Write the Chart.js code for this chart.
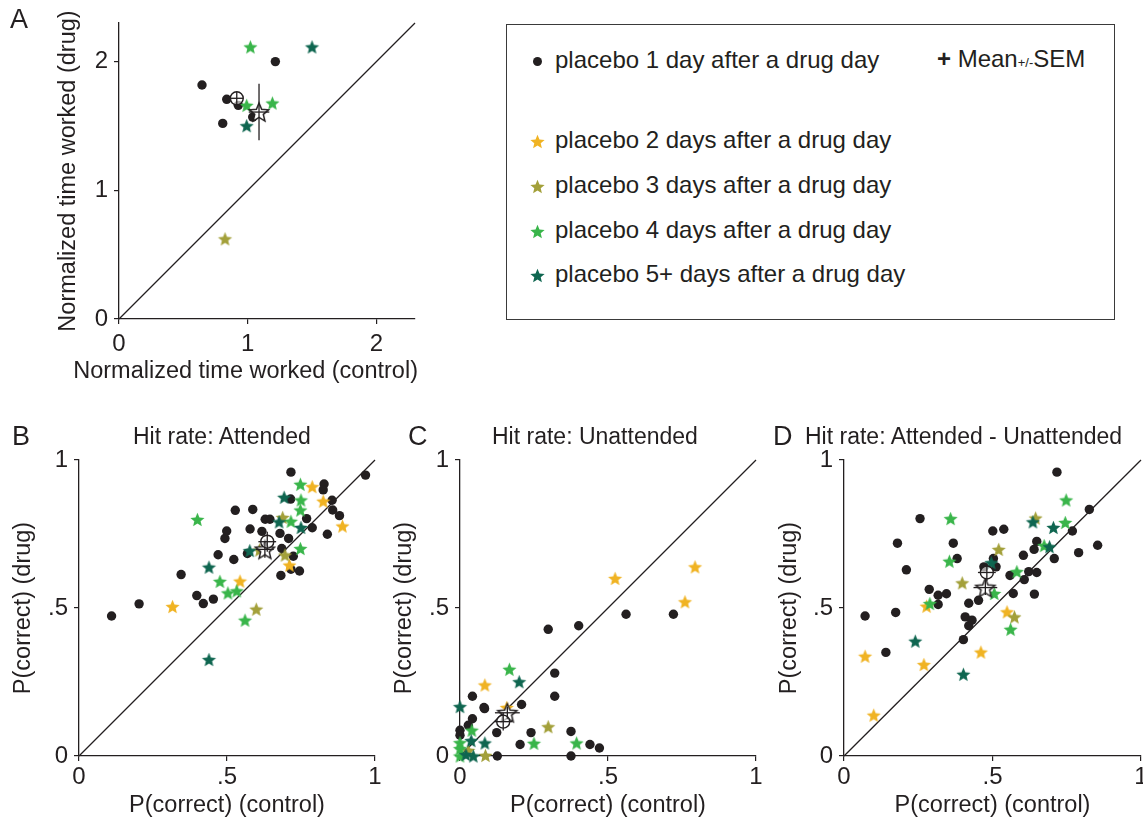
<!DOCTYPE html>
<html>
<head>
<meta charset="utf-8">
<title>Placebo days after a drug day</title>
<script src="https://cdn.jsdelivr.net/npm/chart.js@4.4.1/dist/chart.umd.min.js"></script>
<style>
  html, body { margin: 0; padding: 0; background: #fff; overflow: hidden; }
  body { position: relative; width: 1143px; height: 821px; font-family: "Liberation Sans", Arial, sans-serif; color: #231f20; }
  canvas.panel { position: absolute; }
  .txt { position: absolute; white-space: nowrap; line-height: 1; }
  .letter { font-size: 27px; }
  .ptitle { font-size: 23px; }
  .leg { font-size: 24px; }
  .axt { font-size: 23.5px; }
  #legendBox { position: absolute; left: 506px; top: 24px; width: 607px; height: 294px; border: 1.5px solid #3a3a3a; }
</style>
</head>
<body>
<canvas id="chartA" class="panel" width="440" height="395" style="left:0;top:0"></canvas>
<canvas id="chartB" class="panel" width="390" height="400" style="left:0;top:420px"></canvas>
<canvas id="chartC" class="panel" width="390" height="400" style="left:380px;top:420px"></canvas>
<canvas id="chartD" class="panel" width="383" height="400" style="left:760px;top:420px"></canvas>

<div class="txt letter" style="left:10px;top:6px">A</div>
<div class="txt letter" style="left:12px;top:423px">B</div>
<div class="txt letter" style="left:408px;top:423px">C</div>
<div class="txt letter" style="left:773px;top:423px">D</div>
<div class="txt ptitle" style="left:133px;top:425px">Hit rate: Attended</div>
<div class="txt ptitle" style="left:492px;top:425px">Hit rate: Unattended</div>
<div class="txt ptitle" style="left:805px;top:425px">Hit rate: Attended - Unattended</div>
<div class="txt axt" style="right:725px;top:359px">Normalized time worked (control)</div>

<div id="legendBox"></div>
<div id="legendItems"></div>

<script>
// ---- data: [control, drug] pairs ----
// panel A: normalized time worked
const A_day1 = [[0.645, 1.818], [0.837, 1.707], [0.806, 1.520], [0.927, 1.660], [1.039, 1.569], [1.215, 2.0]];
const A_day2 = [];
const A_day3 = [[0.824, 0.623]];
const A_day4 = [[1.021, 2.114], [0.992, 1.660], [1.192, 1.678]];
const A_day5 = [[1.500, 2.114], [0.992, 1.502]];
// mean: [x, y, semX, semY]
const A_meanDot = [0.915, 1.715, 0.05, 0.05];
const A_meanStar = [1.088, 1.608, 0.08, 0.22];

// panel B: hit rate attended
const B_day1 = [[0.110, 0.473], [0.203, 0.514], [0.345, 0.613], [0.398, 0.542], [0.420, 0.515], [0.454, 0.530],
  [0.470, 0.680], [0.493, 0.735], [0.499, 0.760], [0.523, 0.664], [0.528, 0.830], [0.569, 0.684], [0.578, 0.767],
  [0.587, 0.833], [0.618, 0.759], [0.629, 0.800], [0.645, 0.800], [0.679, 0.752], [0.685, 0.701], [0.708, 0.735],
  [0.716, 0.959], [0.715, 0.868], [0.682, 0.610], [0.716, 0.631], [0.724, 0.675], [0.745, 0.625], [0.769, 0.802],
  [0.788, 0.771], [0.828, 0.919], [0.825, 0.899], [0.855, 0.864], [0.857, 0.831], [0.880, 0.812], [0.839, 0.749],
  [0.968, 0.949]];
const B_day2 = [[0.316, 0.505], [0.544, 0.591], [0.711, 0.645], [0.788, 0.910], [0.825, 0.861], [0.890, 0.777]];
const B_day3 = [[0.599, 0.496], [0.688, 0.806], [0.696, 0.679], [0.610, 0.696]];
const B_day4 = [[0.400, 0.799], [0.476, 0.590], [0.503, 0.551], [0.533, 0.558], [0.561, 0.459], [0.716, 0.793],
  [0.748, 0.918], [0.750, 0.865], [0.748, 0.831], [0.748, 0.701]];
const B_day5 = [[0.439, 0.326], [0.439, 0.638], [0.577, 0.694], [0.676, 0.791], [0.693, 0.874], [0.750, 0.772]];
const B_meanDot = [0.636, 0.724, 0.03, 0.034];
const B_meanStar = [0.628, 0.698, 0.03, 0.028];

// panel C: hit rate unattended
const C_day1 = [[0, 0.087], [0, 0.070], [0.028, 0.104], [0.042, 0.202], [0.042, 0.126], [0.081, 0.164], [0.083, 0.160],
  [0.124, 0.079], [0.126, 0], [0.203, 0.039], [0.208, 0.174], [0.240, 0.079], [0.298, 0.428], [0.320, 0.280],
  [0.320, 0.202], [0.375, 0.083], [0.375, 0], [0.401, 0.440], [0.439, 0.039], [0.471, 0.027], [0.561, 0.479],
  [0.721, 0.479]];
const C_day2 = [[0.084, 0.240], [0.158, 0.164], [0.524, 0.600], [0.760, 0.521], [0.794, 0.639]];
const C_day3 = [[0.298, 0.099], [0.086, 0.002], [0.028, 0.019]];
const C_day4 = [[0.167, 0.293], [0.250, 0.043], [0.394, 0.044], [0, 0.045], [0, 0.025], [0, 0], [0.040, 0.087]];
const C_day5 = [[0, 0.167], [0.200, 0.251], [0.084, 0.044], [0.038, 0.052], [0.045, 0], [0.02, 0.005]];
const C_meanDot = [0.146, 0.116, 0.03, 0.03];
const C_meanStar = [0.160, 0.146, 0.042, 0.02];

// panel D: hit rate attended - unattended
const D_day1 = [[0.071, 0.473], [0.141, 0.350], [0.174, 0.485], [0.180, 0.719], [0.210, 0.629], [0.256, 0.802],
  [0.287, 0.563], [0.317, 0.543], [0.317, 0.512], [0.345, 0.548], [0.368, 0.719], [0.381, 0.667], [0.402, 0.393],
  [0.408, 0.470], [0.420, 0.516], [0.420, 0.440], [0.431, 0.459], [0.453, 0.526], [0.471, 0.639], [0.501, 0.760],
  [0.503, 0.667], [0.512, 0.639], [0.538, 0.766], [0.559, 0.610], [0.570, 0.549], [0.604, 0.678], [0.607, 0.596],
  [0.622, 0.623], [0.640, 0.698], [0.641, 0.547], [0.649, 0.725], [0.649, 0.620], [0.708, 0.667], [0.717, 0.959],
  [0.769, 0.760], [0.790, 0.687], [0.826, 0.833], [0.854, 0.712]];
const D_day2 = [[0.071, 0.337], [0.100, 0.138], [0.269, 0.309], [0.278, 0.506], [0.461, 0.351], [0.549, 0.487]];
const D_day3 = [[0.398, 0.585], [0.521, 0.698], [0.574, 0.470], [0.645, 0.804]];
const D_day4 = [[0.289, 0.515], [0.355, 0.658], [0.359, 0.802], [0.506, 0.549], [0.561, 0.428], [0.582, 0.623],
  [0.674, 0.711], [0.745, 0.789], [0.748, 0.865]];
const D_day5 = [[0.240, 0.388], [0.402, 0.276], [0.496, 0.653], [0.636, 0.791], [0.705, 0.772], [0.692, 0.707]];
const D_meanDot = [0.481, 0.620, 0.03, 0.03];
const D_meanStar = [0.476, 0.569, 0.04, 0.025];

const pTicks = [0, 0.5, 1];
const pTickLabels = ['0', '.5', '1'];
const aTicks = [0, 1, 2];
const aTickLabels = ['0', '1', '2'];

const groupLabels = ['placebo 1 day after a drug day', 'placebo 2 days after a drug day',
  'placebo 3 days after a drug day', 'placebo 4 days after a drug day', 'placebo 5+ days after a drug day'];

const ink = '#231f20';
const groupColors = [ink, '#f0b323', '#a3a03a', '#39b54a', '#0f6650'];
const fam = '"Liberation Sans", Arial, sans-serif';

// filled 5-point star drawn into a small canvas, used as pointStyle
function starImage(r, fill, stroke) {
  const c = document.createElement('canvas');
  c.width = c.height = Math.ceil(2 * r + 4);
  const g = c.getContext('2d');
  const cx = c.width / 2, cy = c.height / 2 + r * 0.095;
  g.beginPath();
  for (let i = 0; i < 10; i++) {
    const rr = i % 2 ? r * 0.45 : r;
    const a = -Math.PI / 2 + i * Math.PI / 5;
    g.lineTo(cx + rr * Math.cos(a), cy + rr * Math.sin(a));
  }
  g.closePath();
  g.fillStyle = fill;
  g.fill();
  if (stroke) {
    g.strokeStyle = stroke;
    g.lineWidth = 1.5;
    g.lineJoin = 'miter';
    g.stroke();
  }
  return c;
}

const starImgs = groupColors.map(c => starImage(7.4, c));
const meanStarImg = starImage(10, '#ffffff', ink);

const xy = arr => arr.map(p => ({ x: p[0], y: p[1] }));

function lineSet(points, order) {
  return { data: points, showLine: true, borderColor: ink, borderWidth: 1.3, pointRadius: 0, fill: false, order: order, clip: false };
}

function axisOpts(isX, max, ticks, labels, title, L) {
  return {
    type: 'linear',
    min: 0,
    max: max,
    afterBuildTicks: s => { s.ticks = ticks.map(v => ({ value: v })); },
    afterFit: s => {
      if (isX) { s.height = L.xHeight; s.paddingLeft = 0; s.paddingRight = 0; }
      else { s.width = L.yWidth; s.paddingTop = 0; s.paddingBottom = 0; }
    },
    ticks: {
      callback: (v, i) => labels[i],
      font: { family: fam, size: 24 },
      color: ink,
      padding: isX ? L.xTickPad : 6,
      maxRotation: 0,
      autoSkip: false
    },
    grid: { drawOnChartArea: false, drawTicks: true, tickLength: 5, color: ink, lineWidth: 1.2 },
    border: { display: true, color: ink, width: 1.3 },
    title: {
      display: !!title,
      text: title || '',
      font: { family: fam, size: 23.5 },
      color: ink,
      padding: isX ? { top: 0, bottom: L.xTitlePad } : { top: L.yTitlePad, bottom: 0 }
    }
  };
}

function buildPanel(canvasId, groups, meanDot, meanStar, max, ticks, labels, xTitle, yTitle, L) {
  const datasets = [];
  // SEM bars on top of the mean markers
  [meanDot, meanStar].forEach(m => {
    datasets.push(lineSet([{ x: m[0] - m[2], y: m[1] }, { x: m[0] + m[2], y: m[1] }], 0));
    datasets.push(lineSet([{ x: m[0], y: m[1] - m[3] }, { x: m[0], y: m[1] + m[3] }], 0));
  });
  datasets.push({ data: [{ x: meanDot[0], y: meanDot[1] }], pointStyle: 'circle', pointRadius: 6.5,
    backgroundColor: 'rgba(255,255,255,0.6)', borderColor: ink, borderWidth: 1.4, order: 1, clip: false });
  datasets.push({ data: [{ x: meanStar[0], y: meanStar[1] }], pointStyle: meanStarImg, order: 1, clip: false });
  groups.forEach((g, i) => {
    if (i === 0) {
      datasets.push({ data: xy(g), pointStyle: 'circle', pointRadius: 4.7, backgroundColor: ink,
        borderWidth: 0, order: 6, clip: false });
    } else {
      datasets.push({ data: xy(g), pointStyle: starImgs[i], order: 6 - i, clip: false });
    }
  });
  // unity line
  datasets.push(lineSet([{ x: 0, y: 0 }, { x: max, y: max }], 7));

  return new Chart(document.getElementById(canvasId), {
    type: 'scatter',
    data: { datasets: datasets },
    options: {
      responsive: false,
      animation: false,
      events: [],
      layout: { autoPadding: false, padding: L.pad },
      plugins: { legend: { display: false }, tooltip: { enabled: false }, title: { display: false } },
      scales: {
        x: axisOpts(true, max, ticks, labels, xTitle, L),
        y: axisOpts(false, max, ticks, labels, yTitle, L)
      }
    }
  });
}

buildPanel('chartA', [A_day1, A_day2, A_day3, A_day4, A_day5], A_meanDot, A_meanStar, 2.3, aTicks, aTickLabels,
  null, 'Normalized time worked (drug)',
  { pad: { left: 0, top: 23, right: 25, bottom: 0 }, yWidth: 119, xHeight: 76, yTitlePad: 54, xTitlePad: 10, xTickPad: 6 });
buildPanel('chartB', [B_day1, B_day2, B_day3, B_day4, B_day5], B_meanDot, B_meanStar, 1, pTicks, pTickLabels,
  'P(correct) (control)', 'P(correct) (drug)',
  { pad: { left: 0, top: 40, right: 15, bottom: 0 }, yWidth: 79, xHeight: 64, yTitlePad: 9, xTitlePad: 0, xTickPad: 2 });
buildPanel('chartC', [C_day1, C_day2, C_day3, C_day4, C_day5], C_meanDot, C_meanStar, 1, pTicks, pTickLabels,
  'P(correct) (control)', 'P(correct) (drug)',
  { pad: { left: 0, top: 40, right: 14, bottom: 0 }, yWidth: 80, xHeight: 64, yTitlePad: 10, xTitlePad: 0, xTickPad: 2 });
buildPanel('chartD', [D_day1, D_day2, D_day3, D_day4, D_day5], D_meanDot, D_meanStar, 1, pTicks, pTickLabels,
  'P(correct) (control)', 'P(correct) (drug)',
  { pad: { left: 0, top: 40, right: 2, bottom: 0 }, yWidth: 84, xHeight: 64, yTitlePad: 15, xTitlePad: 0, xTickPad: 2 });

// legend (HTML box)
const legendRows = [61, 141, 186, 231, 275];
const legendHost = document.getElementById('legendItems');
groupLabels.forEach((label, i) => {
  const y = legendRows[i];
  let icon;
  if (i === 0) {
    icon = document.createElement('div');
    icon.style.cssText = 'position:absolute;width:9px;height:9px;border-radius:50%;background:' + ink +
      ';left:' + (537 - 4.5) + 'px;top:' + (y - 4.5) + 'px';
  } else {
    icon = starImage(7.5, groupColors[i]);
    icon.style.cssText = 'position:absolute;left:' + (537 - icon.width / 2) + 'px;top:' + (y - icon.height / 2) + 'px';
  }
  legendHost.appendChild(icon);
  const t = document.createElement('div');
  t.className = 'txt leg';
  t.style.left = '555px';
  t.style.top = (y - 13.3) + 'px';
  t.textContent = label;
  legendHost.appendChild(t);
});
const meanLbl = document.createElement('div');
meanLbl.className = 'txt leg';
meanLbl.style.left = '937px';
meanLbl.style.top = '47px';
meanLbl.innerHTML = '<b>+</b> Mean<span style="font-size:13px">+/-</span>SEM';
legendHost.appendChild(meanLbl);
</script>
</body>
</html>
